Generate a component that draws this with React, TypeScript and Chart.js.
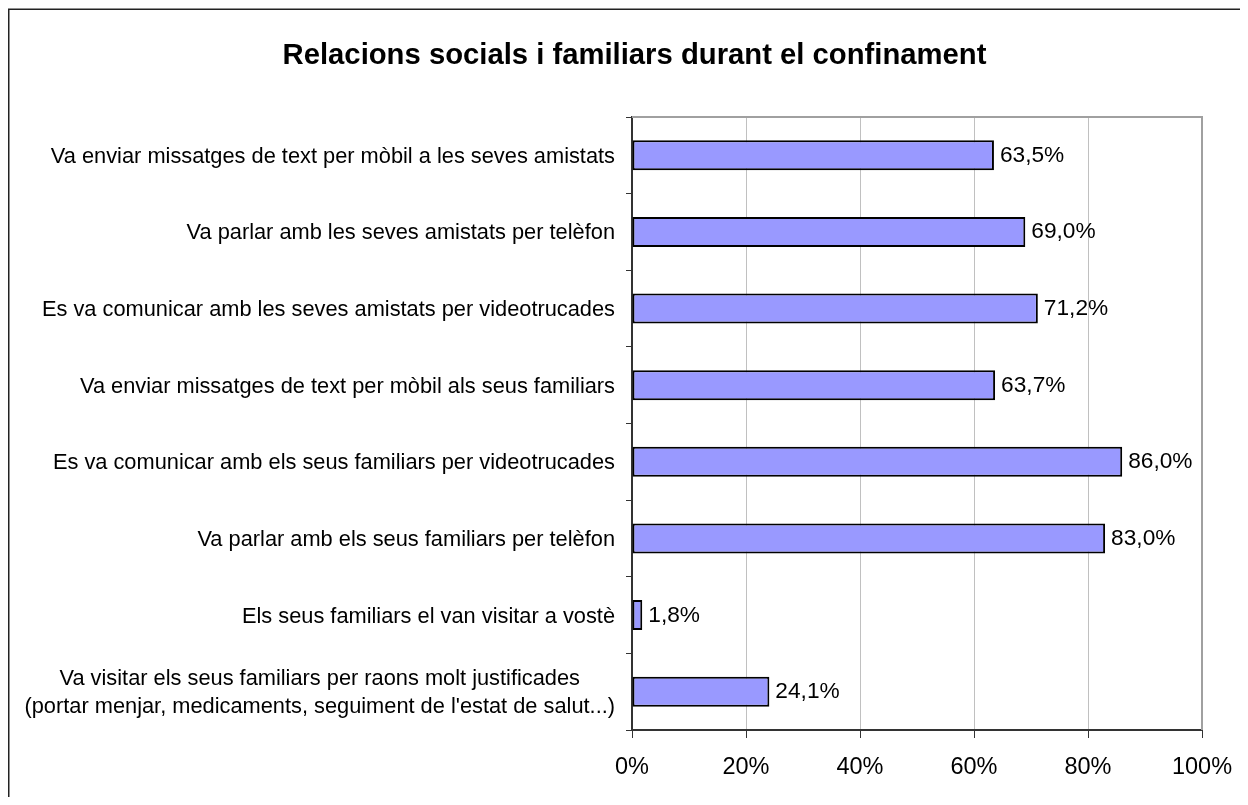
import React, { useEffect, useRef } from 'react';
import { Chart, registerables } from 'chart.js';

Chart.register(...registerables);

const FONT = '"Liberation Sans", Arial, sans-serif';

const TITLE = 'Relacions socials i familiars durant el confinament';

const categories: (string | string[])[] = [
  'Va enviar missatges de text per mòbil a les seves amistats',
  'Va parlar amb les seves amistats per telèfon',
  'Es va comunicar amb les seves amistats per videotrucades',
  'Va enviar missatges de text per mòbil als seus familiars',
  'Es va comunicar amb els seus familiars per videotrucades',
  'Va parlar amb els seus familiars per telèfon',
  'Els seus familiars el van visitar a vostè',
  [
    'Va visitar els seus familiars per raons molt justificades',
    "(portar menjar, medicaments, seguiment de l'estat de salut...)",
  ],
];

const values = [63.5, 69.0, 71.2, 63.7, 86.0, 83.0, 1.8, 24.1];

const xTickValues = [0, 20, 40, 60, 80, 100];

const fmt = (v: number) => v.toFixed(1).replace('.', ',') + '%';

const decorPlugin = {
  id: 'decor',
  beforeDatasetsDraw(chart: any) {
    const { ctx, chartArea } = chart;
    ctx.save();
    ctx.strokeStyle = '#a0a0a0';
    ctx.lineWidth = 2;
    ctx.beginPath();
    ctx.moveTo(chartArea.left, chartArea.top);
    ctx.lineTo(chartArea.right, chartArea.top);
    ctx.lineTo(chartArea.right, chartArea.bottom);
    ctx.stroke();
    ctx.restore();
  },
  afterDraw(chart: any) {
    const { ctx } = chart;
    ctx.save();
    // outer border (top and left visible)
    ctx.strokeStyle = '#222';
    ctx.lineWidth = 1.5;
    ctx.beginPath();
    ctx.moveTo(0.75, chart.height);
    ctx.lineTo(0.75, 1.25);
    ctx.lineTo(chart.width, 1.25);
    ctx.stroke();

    // title
    ctx.fillStyle = '#000';
    ctx.font = `bold 29.25px ${FONT}`;
    ctx.textAlign = 'center';
    ctx.textBaseline = 'alphabetic';
    ctx.fillText(TITLE, 626.5, 56);

    // category labels
    const yScale = chart.scales.y;
    const axisLeft = chart.chartArea.left;
    const rightX = axisLeft - 17;
    ctx.font = `21.8px ${FONT}`;
    categories.forEach((lab, i) => {
      const cy = yScale.getPixelForValue(i) + 1.5;
      if (Array.isArray(lab)) {
        const w = Math.max(...lab.map((l) => ctx.measureText(l).width));
        const cx = rightX - w / 2;
        const lh = 28;
        ctx.textAlign = 'center';
        ctx.textBaseline = 'middle';
        lab.forEach((l, j) => {
          ctx.fillText(l, cx, cy + (j - (lab.length - 1) / 2) * lh);
        });
      } else {
        ctx.textAlign = 'right';
        ctx.textBaseline = 'middle';
        ctx.fillText(lab, rightX, cy);
      }
    });

    // data labels
    const meta = chart.getDatasetMeta(0);
    ctx.font = `22.7px ${FONT}`;
    ctx.textAlign = 'left';
    ctx.textBaseline = 'alphabetic';
    meta.data.forEach((bar: any, i: number) => {
      ctx.fillText(fmt(values[i]), bar.x + 6, bar.y + 6.5);
    });
    ctx.restore();
  },
};

export default function App() {
  const ref = useRef<HTMLCanvasElement | null>(null);

  useEffect(() => {
    if (!ref.current) return;
    const chart = new Chart(ref.current, {
      type: 'bar',
      data: {
        labels: categories as any,
        datasets: [
          {
            data: values,
            backgroundColor: '#9999FF',
            borderColor: '#000000',
            borderWidth: 2,
            borderSkipped: false,
            barPercentage: 0.39,
            categoryPercentage: 1,
          },
        ],
      },
      options: {
        indexAxis: 'y',
        responsive: false,
        animation: false,
        devicePixelRatio: 1,
        layout: { padding: { top: 109, right: 38, left: 0, bottom: 0 } },
        plugins: {
          legend: { display: false },
          tooltip: { enabled: false },
          title: { display: false },
        },
        scales: {
          x: {
            min: 0,
            max: 100,
            afterBuildTicks: (scale: any) => {
              scale.ticks = xTickValues.map((v) => ({ value: v }));
            },
            afterFit: (scale: any) => {
              scale.height = 67;
              scale.paddingLeft = 0;
              scale.paddingRight = 0;
            },
            ticks: {
              callback: (v: any) => v + '%',
              color: '#000',
              font: { family: FONT, size: 23.5 },
              padding: 15,
              maxRotation: 0,
            },
            grid: {
              color: '#c0c0c0',
              lineWidth: 1,
              tickColor: '#333',
              tickLength: 8,
              drawTicks: true,
            },
            border: { display: true, color: '#333', width: 2 },
          },
          y: {
            type: 'category',
            afterFit: (scale: any) => {
              scale.width = 624;
              scale.paddingTop = 0;
              scale.paddingBottom = 0;
            },
            ticks: { display: false },
            grid: {
              offset: true,
              drawOnChartArea: false,
              drawTicks: true,
              tickLength: 6,
              color: '#333',
              lineWidth: 1,
            },
            border: { display: true, color: '#333', width: 2 },
          },
        },
      } as any,
      plugins: [decorPlugin],
    });
    return () => chart.destroy();
  }, []);

  return (
    <canvas
      ref={ref}
      width={1232}
      height={789}
      style={{ display: 'block', width: 1232, height: 789 }}
    />
  );
}
